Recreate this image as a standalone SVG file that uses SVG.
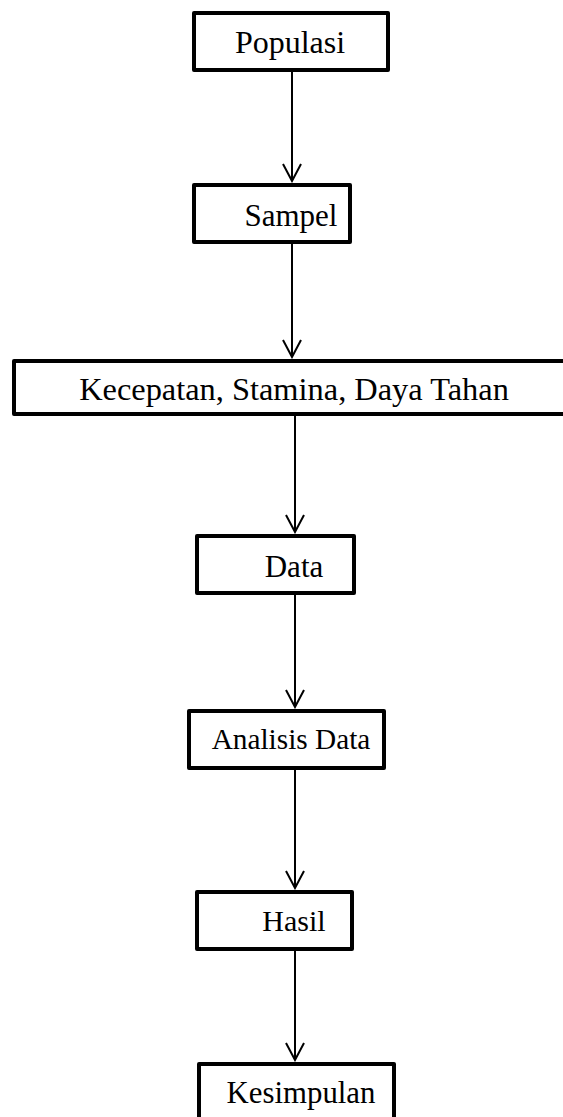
<svg xmlns="http://www.w3.org/2000/svg" width="563" height="1117" viewBox="0 0 563 1117">
<style>
.box{fill:#fff;stroke:#000;stroke-width:4;stroke-linejoin:round}
.t{font-family:"Liberation Serif","Times New Roman",serif;font-size:31px;fill:#000;text-anchor:middle}
.c{stroke:#000;stroke-width:2;fill:none}
</style>
<defs>
<marker id="ah" viewBox="0 0 20 20" refX="18" refY="10" markerWidth="20" markerHeight="20" markerUnits="userSpaceOnUse" orient="auto">
<path d="M1,1 L18,10 L1,19" fill="none" stroke="#000" stroke-width="2"/>
</marker>
</defs>
<g id="connectors">
<line class="c" x1="292" y1="72" x2="292" y2="181" marker-end="url(#ah)"/>
<line class="c" x1="292" y1="244" x2="292" y2="357" marker-end="url(#ah)"/>
<line class="c" x1="295" y1="416" x2="295" y2="532" marker-end="url(#ah)"/>
<line class="c" x1="295" y1="595" x2="295" y2="707" marker-end="url(#ah)"/>
<line class="c" x1="295" y1="770" x2="295" y2="888" marker-end="url(#ah)"/>
<line class="c" x1="295" y1="951" x2="295" y2="1060" marker-end="url(#ah)"/>
</g>
<g id="populasi"><rect class="box" x="194" y="13" width="194" height="57"/><text class="t" x="290" y="53" style="font-size:32px">Populasi</text></g>
<g id="sampel"><rect class="box" x="194" y="185" width="156" height="57"/><text class="t" x="291" y="226">Sampel</text></g>
<g id="kecepatan"><rect class="box" x="14" y="361" width="560" height="53"/><text class="t" x="294" y="400" style="font-size:32.4px">Kecepatan, Stamina, Daya Tahan</text></g>
<g id="data"><rect class="box" x="197" y="536" width="157" height="57"/><text class="t" x="294" y="577">Data</text></g>
<g id="analisis"><rect class="box" x="189" y="711" width="195" height="57"/><text class="t" x="291" y="749" style="font-size:29.3px">Analisis Data</text></g>
<g id="hasil"><rect class="box" x="197" y="892" width="155" height="57"/><text class="t" x="294" y="931" style="font-size:30px">Hasil</text></g>
<g id="kesimpulan"><rect class="box" x="199" y="1064" width="195" height="60"/><text class="t" x="301" y="1103" style="font-size:30.8px">Kesimpulan</text></g>
</svg>
